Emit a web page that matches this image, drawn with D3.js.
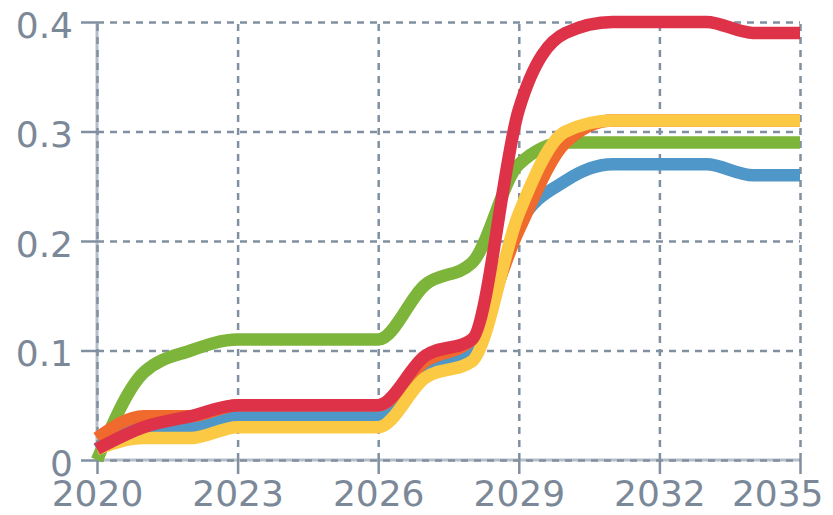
<!DOCTYPE html>
<html>
<head>
<meta charset="utf-8">
<script src="https://cdn.jsdelivr.net/npm/d3@7"></script>
<style>
  body { margin: 0; background: #fff; }
  .tick text { font-family: "DejaVu Sans", sans-serif; font-size: 36px; fill: #7b8898; }
</style>
</head>
<body>
<div class="svg-container"></div>
<script>
// chart values
var years = [2020, 2021, 2022, 2023, 2024, 2025, 2026, 2027, 2028, 2029, 2030, 2031, 2032, 2033, 2034, 2035];
var xTicks = [2020, 2023, 2026, 2029, 2032, 2035];
var yTicks = [0, 0.1, 0.2, 0.3, 0.4];

var green  = [0, 0.08, 0.10, 0.11, 0.11, 0.11, 0.11, 0.16, 0.18, 0.27, 0.29, 0.29, 0.29, 0.29, 0.29, 0.29];
var blue   = [0.01, 0.03, 0.03, 0.04, 0.04, 0.04, 0.04, 0.085, 0.10, 0.215, 0.255, 0.27, 0.27, 0.27, 0.26, 0.26];
var orange = [0.02, 0.04, 0.04, 0.05, 0.05, 0.05, 0.05, 0.09, 0.11, 0.21, 0.29, 0.31, 0.31, 0.31, 0.31, 0.31];
var yellow = [0.01, 0.02, 0.02, 0.03, 0.03, 0.03, 0.03, 0.075, 0.09, 0.225, 0.30, 0.31, 0.31, 0.31, 0.31, 0.31];
var red    = [0.01, 0.03, 0.04, 0.05, 0.05, 0.05, 0.05, 0.095, 0.11, 0.32, 0.39, 0.40, 0.40, 0.40, 0.39, 0.39];

// drawing order: later ones sit on top
var series = [
    {name: "green",  values: green,  color: "#7db43a"},
    {name: "blue",   values: blue,   color: "#4f97c8"},
    {name: "orange", values: orange, color: "#f0692d"},
    {name: "yellow", values: yellow, color: "#fcc944"},
    {name: "red",    values: red,    color: "#de3249"}
];

var margin = {top: 22, right: 33, bottom: 55, left: 97},
    width = 833 - margin.left - margin.right,
    height = 515 - margin.top - margin.bottom;

var svg = d3.select(".svg-container").append("svg")
    .attr("width", width + margin.left + margin.right)
    .attr("height", height + margin.top + margin.bottom);

var g = svg.append("g")
    .attr("transform", "translate(" + margin.left + "," + margin.top + ")");

var xScale = d3.scaleLinear().domain([2020, 2035]).range([0, width]),
    yScale = d3.scaleLinear().domain([0, 0.4]).range([height, 0]);

var line = d3.line()
    .curve(d3.curveMonotoneX)
    .x(function (d, i) { return xScale(years[i]); })
    .y(function (d) { return yScale(d); });

// solid axis lines underneath the grid
g.append("line")
    .attr("x1", 0).attr("x2", 0).attr("y1", 0).attr("y2", height)
    .attr("stroke", "#b5bfca").attr("stroke-width", 3);
g.append("line")
    .attr("x1", 0).attr("x2", width).attr("y1", height).attr("y2", height)
    .attr("stroke", "#b5bfca").attr("stroke-width", 3);

// dashed grid
g.append("g")
    .attr("class", "grid grid-x")
    .attr("transform", "translate(0," + height + ")")
    .call(d3.axisBottom(xScale).tickValues(xTicks).tickSize(-height).tickFormat(""));

g.append("g")
    .attr("class", "grid grid-y")
    .call(d3.axisLeft(yScale).tickValues(yTicks).tickSize(-width).tickFormat(""));

g.selectAll(".grid .domain").remove();
g.selectAll(".grid line")
    .attr("stroke", "#8190a1")
    .attr("stroke-width", 2.5)
    .attr("stroke-dasharray", "7,6");

// axes with ticks and labels
var xAxis = g.append("g")
    .attr("class", "axis axis--x")
    .attr("transform", "translate(0," + height + ")")
    .call(d3.axisBottom(xScale).tickValues(xTicks).tickSize(14).tickPadding(6).tickFormat(d3.format("d")));

var yAxis = g.append("g")
    .attr("class", "axis axis--y")
    .call(d3.axisLeft(yScale).tickValues(yTicks).tickSize(16).tickPadding(8)
        .tickFormat(function (d) { return d === 0 ? "0" : d3.format(".1f")(d); }));

g.selectAll(".axis .domain").remove();
g.selectAll(".axis line").attr("stroke", "#8190a1").attr("stroke-width", 2.5);
yAxis.selectAll("text").attr("dy", "0.42em");

// keep the last year label inside the picture
xAxis.selectAll(".tick text")
    .filter(function (d) { return d === 2035; })
    .attr("text-anchor", "end")
    .attr("x", 23);

// lines
g.selectAll(".series")
    .data(series)
    .enter().append("path")
    .attr("class", "series")
    .attr("d", function (d) { return line(d.values); })
    .attr("fill", "none")
    .attr("stroke", function (d) { return d.color; })
    .attr("stroke-width", 12.5)
    .attr("stroke-linejoin", "round");
</script>
</body>
</html>
